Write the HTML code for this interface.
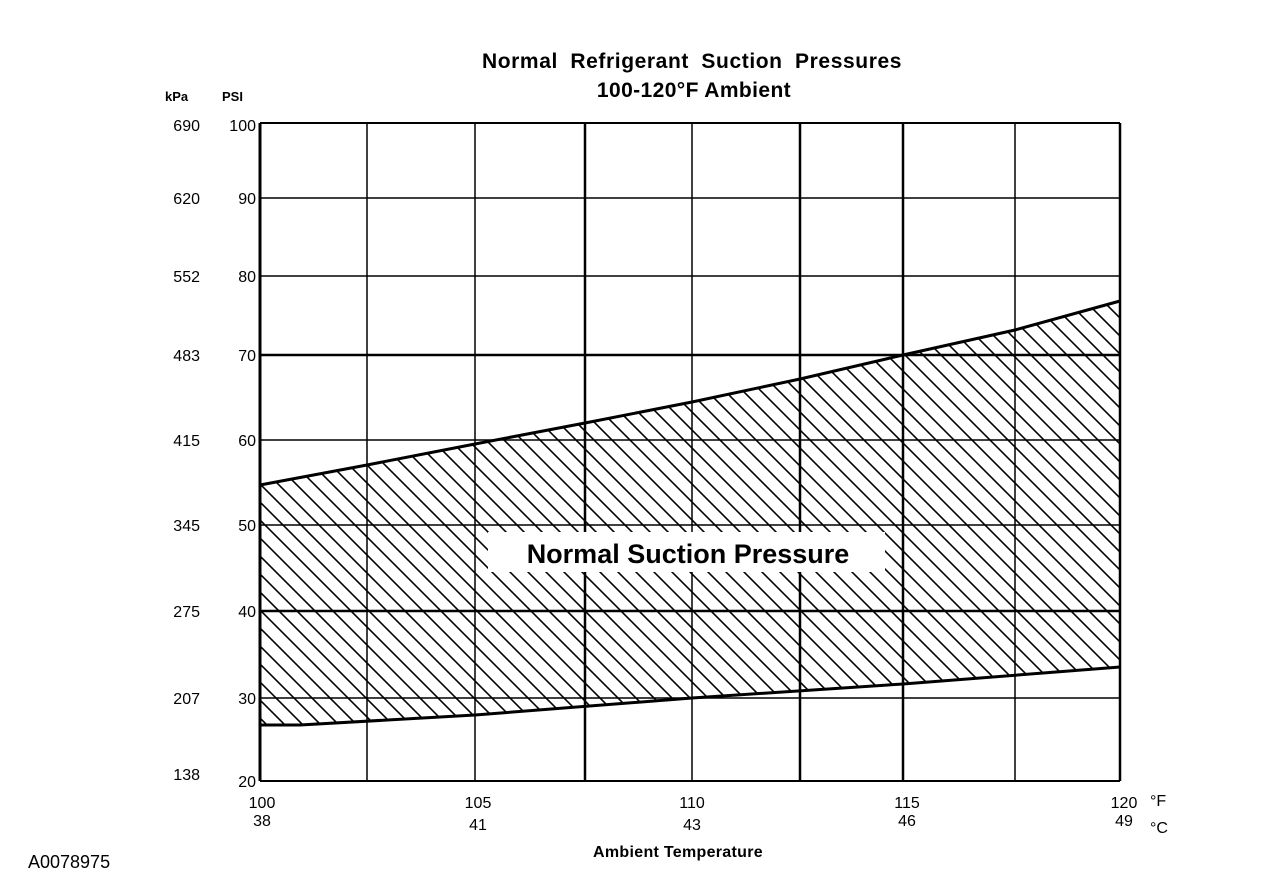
<!DOCTYPE html>
<html><head><style>
body{margin:0;background:#fff;}
text{font-family:"Liberation Sans",Arial,sans-serif;font-weight:bold;fill:#000;}
.n{font-weight:normal;}
</style></head><body>
<svg width="1264" height="888" viewBox="0 0 1264 888" xmlns="http://www.w3.org/2000/svg">
<defs>
<clipPath id="c"><polygon points="260,485 367,465 475,444 585,423 692,402 800,379 903,355 1015,330 1120,301 1120,667 903,684 692,698 475,715 300,725 260,725"/></clipPath>
</defs>
<g id="hatch" clip-path="url(#c)" stroke="#000" stroke-width="1.6"></g>
<g stroke="#000" fill="none">
<line x1="260" y1="123" x2="1120" y2="123" stroke-width="2"/>
<line x1="260" y1="198" x2="1120" y2="198" stroke-width="1.5"/>
<line x1="260" y1="276" x2="1120" y2="276" stroke-width="1.5"/>
<line x1="260" y1="355" x2="1120" y2="355" stroke-width="2.5"/>
<line x1="260" y1="440" x2="1120" y2="440" stroke-width="1.5"/>
<line x1="260" y1="525" x2="1120" y2="525" stroke-width="1.5"/>
<line x1="260" y1="611" x2="1120" y2="611" stroke-width="2.5"/>
<line x1="260" y1="698" x2="1120" y2="698" stroke-width="1.5"/>
<line x1="260" y1="781" x2="1120" y2="781" stroke-width="2"/>
<line x1="260" y1="123" x2="260" y2="781" stroke-width="3"/>
<line x1="367" y1="123" x2="367" y2="781" stroke-width="1.5"/>
<line x1="475" y1="123" x2="475" y2="781" stroke-width="1.5"/>
<line x1="585" y1="123" x2="585" y2="781" stroke-width="2.5"/>
<line x1="692" y1="123" x2="692" y2="781" stroke-width="1.5"/>
<line x1="800" y1="123" x2="800" y2="781" stroke-width="2.5"/>
<line x1="903" y1="123" x2="903" y2="781" stroke-width="2.5"/>
<line x1="1015" y1="123" x2="1015" y2="781" stroke-width="1.5"/>
<line x1="1120" y1="123" x2="1120" y2="781" stroke-width="2.5"/>
<polyline points="260,485 367,465 475,444 585,423 692,402 800,379 903,355 1015,330 1120,301" stroke-width="3"/>
<polyline points="260,725 300,725 475,715 692,698 903,684 1120,667" stroke-width="3"/>
</g>
<rect x="488" y="532" width="397" height="40" fill="#fff"/>
<text x="688" y="563" font-size="27" text-anchor="middle">Normal Suction Pressure</text>
<text x="692" y="68" font-size="21" text-anchor="middle" word-spacing="6" letter-spacing="0.6">Normal Refrigerant Suction Pressures</text>
<text x="694" y="97" font-size="21" text-anchor="middle" letter-spacing="0.4">100-120°F Ambient</text>
<text x="165" y="101" font-size="13">kPa</text>
<text x="222" y="101" font-size="13">PSI</text>
<g font-size="16">
<text class="n" x="200" y="131" text-anchor="end">690</text>
<text class="n" x="200" y="204" text-anchor="end">620</text>
<text class="n" x="200" y="282" text-anchor="end">552</text>
<text class="n" x="200" y="361" text-anchor="end">483</text>
<text class="n" x="200" y="446" text-anchor="end">415</text>
<text class="n" x="200" y="531" text-anchor="end">345</text>
<text class="n" x="200" y="617" text-anchor="end">275</text>
<text class="n" x="200" y="704" text-anchor="end">207</text>
<text class="n" x="200" y="780" text-anchor="end">138</text>
<text class="n" x="256" y="131" text-anchor="end">100</text>
<text class="n" x="256" y="204" text-anchor="end">90</text>
<text class="n" x="256" y="282" text-anchor="end">80</text>
<text class="n" x="256" y="361" text-anchor="end">70</text>
<text class="n" x="256" y="446" text-anchor="end">60</text>
<text class="n" x="256" y="531" text-anchor="end">50</text>
<text class="n" x="256" y="617" text-anchor="end">40</text>
<text class="n" x="256" y="704" text-anchor="end">30</text>
<text class="n" x="256" y="787" text-anchor="end">20</text>
<text class="n" x="262" y="808" text-anchor="middle">100</text>
<text class="n" x="262" y="826" text-anchor="middle">38</text>
<text class="n" x="478" y="808" text-anchor="middle">105</text>
<text class="n" x="478" y="830" text-anchor="middle">41</text>
<text class="n" x="692" y="808" text-anchor="middle">110</text>
<text class="n" x="692" y="830" text-anchor="middle">43</text>
<text class="n" x="907" y="808" text-anchor="middle">115</text>
<text class="n" x="907" y="826" text-anchor="middle">46</text>
<text class="n" x="1124" y="808" text-anchor="middle">120</text>
<text class="n" x="1124" y="826" text-anchor="middle">49</text>
<text class="n" x="1150" y="806">°F</text>
<text class="n" x="1150" y="833">°C</text>
<text class="n" x="28" y="868" font-size="18">A0078975</text>
</g>
<text x="678" y="857" font-size="16" text-anchor="middle" letter-spacing="0.3">Ambient Temperature</text>
</svg>
<script>
var g=document.getElementById('hatch'),s='';
for(var x=-700;x<1200;x+=18){s+='<line x1="'+x+'" y1="280" x2="'+(x+460)+'" y2="740"/>';}
g.innerHTML=s;
</script>
</body></html>
